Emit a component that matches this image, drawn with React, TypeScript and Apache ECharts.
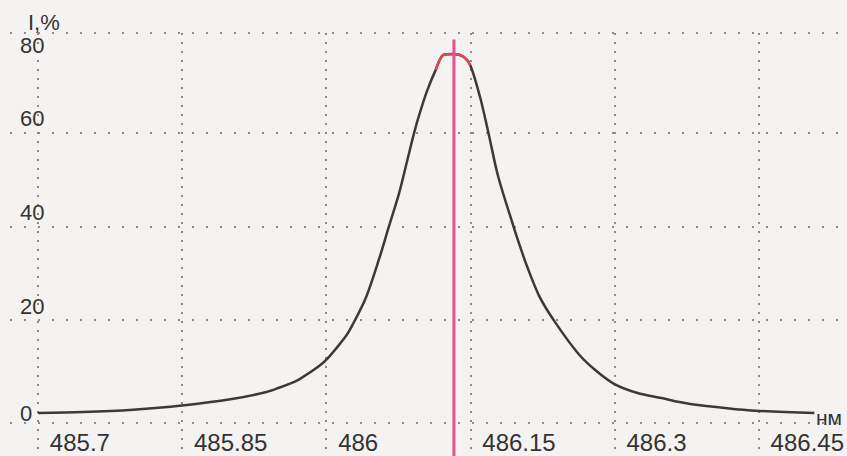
import React, { useEffect, useRef } from "react";
import * as echarts from "echarts";

// wavelength (nm) and relative intensity (%)
const wavelength = [
  485.7, 485.747, 485.799, 485.85, 485.902, 485.938, 485.951, 485.965, 485.972, 485.993,
  486.003, 486.02, 486.027, 486.041, 486.055, 486.065, 486.076, 486.084, 486.091, 486.096,
  486.105, 486.114, 486.122, 486.133, 486.143, 486.15, 486.16, 486.169, 486.179, 486.195,
  486.203, 486.209, 486.222, 486.238, 486.262, 486.28, 486.3, 486.324, 486.349, 486.366,
  486.387, 486.439, 486.508,
];
const intensity = [
  0.1, 0.3, 0.8, 1.7, 3.1, 4.6, 5.5, 6.6, 7.3, 10.2,
  12.1, 16.4, 18.8, 24.6, 33.0, 39.8, 47.2, 53.8, 59.6, 63.3,
  69.0, 73.5, 76.7, 76.9, 76.3, 74.5, 67.8, 59.9, 50.7, 40.0,
  35.0, 31.5, 25.0, 19.6, 12.9, 9.3, 6.3, 4.4, 3.3, 2.5,
  1.8, 0.7, 0.1,
];

const xTickValues = [485.7, 485.85, 486, 486.15, 486.3, 486.45];
const yLabelValues = [20, 40, 60];
const yTopLabel = [80];
const yZeroLabel = [0];
const markerWavelength = 486.133;
const markerTop = 80;
const redThreshold = 73.5;

const X_MIN = 485.671;
const X_MAX = 486.5392;
const Y_MIN = -9.09;
const Y_MAX = 81.39;
const Y_FRAME_BOTTOM = -2.03;
const yGridValues = [Y_FRAME_BOTTOM, 20, 40, 60, Y_MAX];

const FONT = "'Liberation Sans', Arial, sans-serif";
const TEXT = "#333333";
const GRIDC = "#8c8c8c";
const DARK = "#3a3a3a";
const RED = "#e0485a";
const PINK = "#e6508c";

export default function App() {
  const ref = useRef<HTMLDivElement>(null);
  useEffect(() => {
    if (!ref.current) return;
    const chart = echarts.init(ref.current, null, { renderer: "svg" });
    const points = wavelength.map((w, i) => [w, intensity[i]]);
    const peakPoints = points.filter((p) => p[1] >= redThreshold);
    const hiddenY = (values: number[], vAlign: string, lineHeight: number) => ({
      type: "value",
      min: Y_MIN,
      max: Y_MAX,
      position: "left",
      axisLine: { show: false },
      axisTick: { show: false, customValues: values },
      splitLine: { show: false },
      axisLabel: {
        inside: true,
        customValues: values,
        margin: 10,
        align: "left",
        verticalAlign: vAlign,
        lineHeight,
        fontSize: 22,
        fontFamily: FONT,
        color: TEXT,
      },
    });
    chart.setOption({
      animation: false,
      backgroundColor: "#f4f3f1",
      title: {
        text: "I,%",
        left: 23,
        top: 6,
        textStyle: { fontSize: 22, fontWeight: "normal", fontFamily: FONT, color: TEXT },
      },
      graphic: [
        {
          type: "text",
          left: 816,
          top: 407,
          style: { text: "нм", fontSize: 21, lineHeight: 20, fontFamily: FONT, fill: TEXT },
        },
      ],
      grid: { left: 10, right: 0, top: 33, bottom: 0, containLabel: false },
      xAxis: {
        type: "value",
        min: X_MIN,
        max: X_MAX,
        axisLine: { show: false },
        axisTick: { show: false, customValues: xTickValues },
        splitLine: {
          show: true,
          lineStyle: { color: GRIDC, width: 2, type: [2, 7] },
        },
        axisLabel: {
          inside: true,
          customValues: xTickValues,
          formatter: (v: number) => String(v),
          margin: 4,
          align: "left",
          verticalAlign: "bottom",
          lineHeight: 20,
          padding: [0, 0, 0, 12],
          fontSize: 24,
          fontFamily: FONT,
          color: TEXT,
        },
      },
      yAxis: [
        {
          type: "value",
          min: Y_MIN,
          max: Y_MAX,
          position: "left",
          axisLine: { show: false },
          axisTick: { show: false, customValues: yGridValues },
          splitLine: {
            show: true,
            lineStyle: { color: GRIDC, width: 2, type: [2, 12] },
          },
          axisLabel: {
            inside: true,
            customValues: yLabelValues,
            margin: 10,
            align: "left",
            verticalAlign: "bottom",
            padding: [0, 0, 3, 0],
            fontSize: 22,
            fontFamily: FONT,
            color: TEXT,
          },
        },
        hiddenY(yTopLabel, "top", 12),
        hiddenY(yZeroLabel, "middle", 22),
      ],
      series: [
        {
          type: "line",
          data: points,
          showSymbol: false,
          smooth: 0.3,
          lineStyle: { width: 2.5, color: DARK },
          z: 3,
        },
        {
          type: "line",
          data: peakPoints,
          showSymbol: false,
          smooth: 0.3,
          lineStyle: { width: 2.5, color: RED },
          z: 4,
        },
        {
          type: "line",
          data: [
            [markerWavelength, markerTop],
            [markerWavelength, Y_MIN],
          ],
          showSymbol: false,
          lineStyle: { width: 3, color: PINK },
          z: 5,
        },
      ],
    });
    return () => chart.dispose();
  }, []);
  return (
    <div
      ref={ref}
      style={{ position: "fixed", left: 0, top: 0, width: 847, height: 456 }}
    />
  );
}
